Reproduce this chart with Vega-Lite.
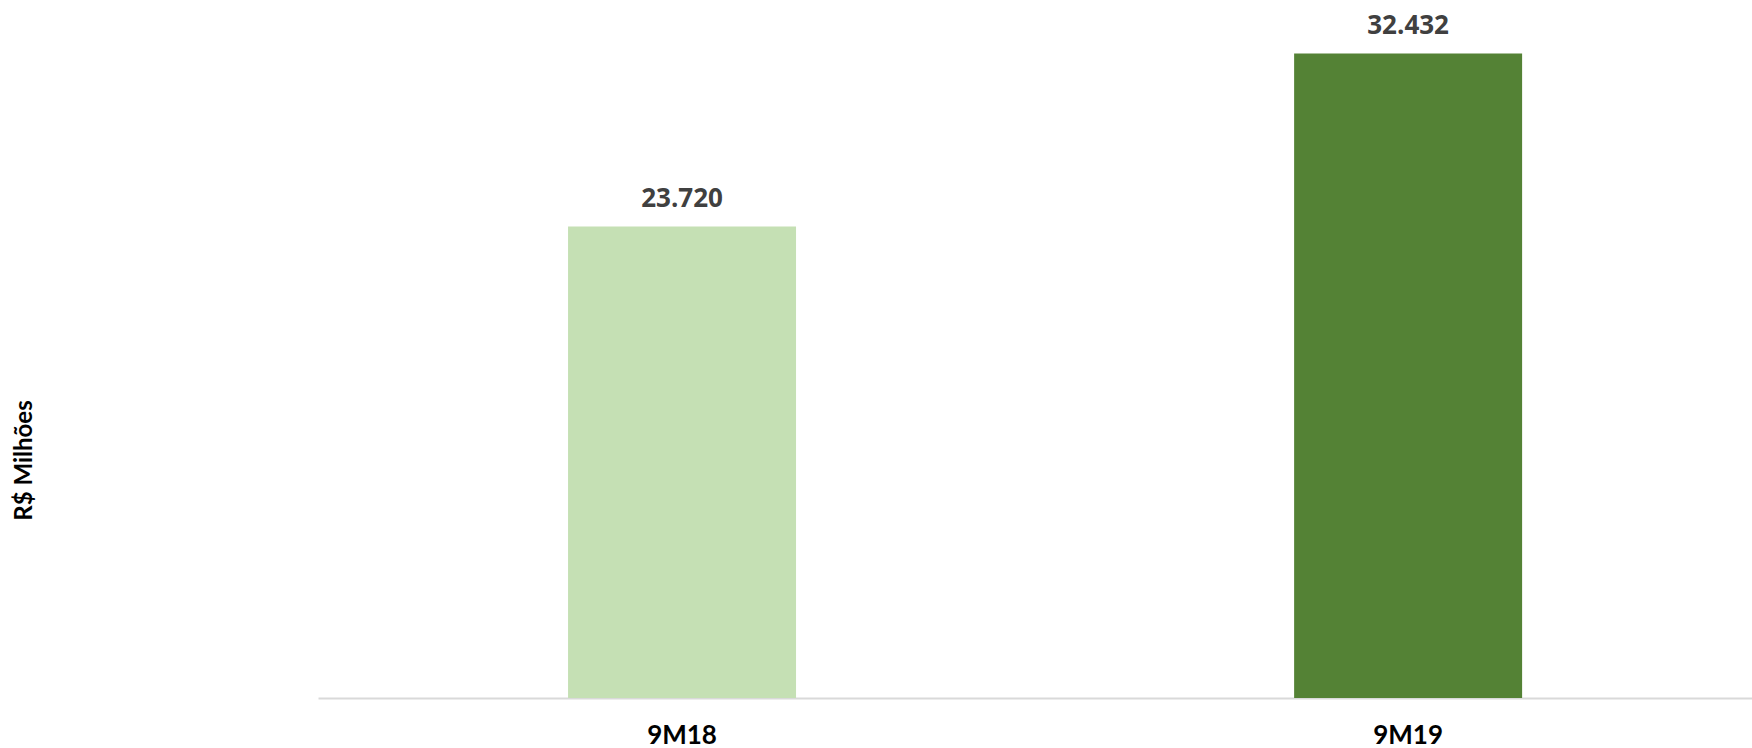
{
  "$schema": "https://vega.github.io/schema/vega-lite/v6.json",
  "width": 1434,
  "height": 698,
  "autosize": {"type": "none"},
  "padding": {"left": 318, "top": 0, "right": 0, "bottom": 50},
  "background": "white",
  "config": {"view": {"stroke": null}},
  "data": {"values": [
    {"periodo": "9M18", "valor": 23720, "rotulo": "23.720"},
    {"periodo": "9M19", "valor": 32432, "rotulo": "32.432"}
  ]},
  "encoding": {
    "x": {
      "field": "periodo", "type": "nominal", "sort": null,
      "scale": {"paddingInner": 0.686, "paddingOuter": 0.3305, "align": 0.521},
      "axis": {
        "title": null, "labelAngle": 0, "ticks": false, "tickSize": 0,
        "labelPadding": 24, "labelFont": "Lato", "labelFontWeight": "bold",
        "labelFontSize": 26, "labelColor": "#000000",
        "domainColor": "#d9d9d9", "domainWidth": 2, "grid": false
      }
    },
    "y": {
      "field": "valor", "type": "quantitative",
      "scale": {"domain": [0, 35120], "nice": false, "zero": true},
      "axis": {
        "title": "R$ Milhões", "labels": false, "ticks": false, "domain": false, "grid": false,
        "titleFont": "Lato", "titleFontWeight": "bold", "titleFontSize": 24, "titleColor": "#000000",
        "titleAngle": -90, "titleAlign": "center", "titleBaseline": "middle",
        "titleX": -294, "titleY": 460
      }
    }
  },
  "layer": [
    {
      "mark": {"type": "bar"},
      "encoding": {
        "color": {"field": "periodo", "type": "nominal", "legend": null,
          "scale": {"domain": ["9M18", "9M19"], "range": ["#c5e0b4", "#548235"]}}
      }
    },
    {
      "mark": {"type": "text", "baseline": "alphabetic", "align": "center", "dy": -19.5,
        "font": "Open Sans", "fontWeight": "bold", "fontSize": 26, "color": "#404040"},
      "encoding": {"text": {"field": "rotulo"}}
    }
  ]
}
